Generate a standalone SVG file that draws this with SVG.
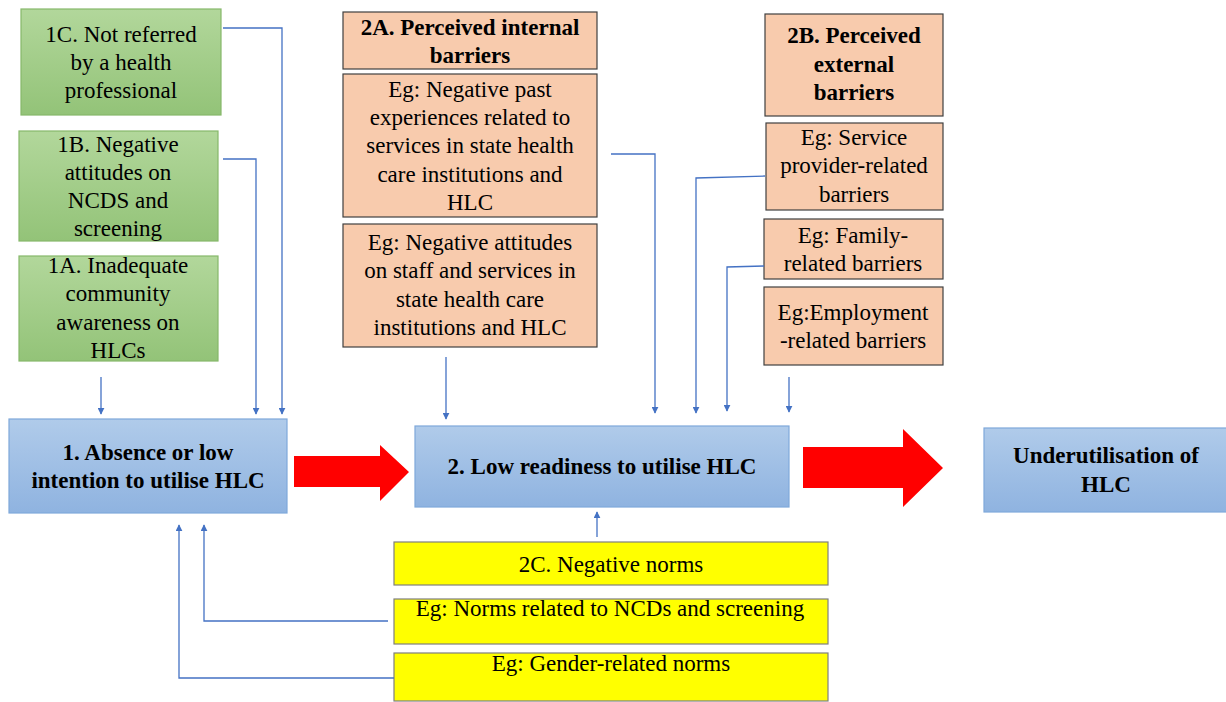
<svg xmlns="http://www.w3.org/2000/svg" width="1226" height="702" viewBox="0 0 1226 702">
<defs>
<linearGradient id="gG" x1="0" y1="0" x2="0" y2="1"><stop offset="0" stop-color="#b2d79b"/><stop offset="1" stop-color="#93c378"/></linearGradient>
<linearGradient id="gB" x1="0" y1="0" x2="0" y2="1"><stop offset="0" stop-color="#b0cbea"/><stop offset="1" stop-color="#8fb3e0"/></linearGradient>
<marker id="ah" viewBox="0 0 10 10" refX="9" refY="5" markerWidth="7" markerHeight="7" orient="auto" markerUnits="userSpaceOnUse"><path d="M0,0 L10,5 L0,10 z" fill="#4472c4"/></marker>
</defs>
<rect width="1226" height="702" fill="#fff"/>
<g font-family="Liberation Serif, Tinos, Times New Roman, serif" font-size="23" text-anchor="middle" fill="#000">
<g id="n1C"><rect fill="url(#gG)" stroke="#86b86a" stroke-width="1.2" x="21" y="9" width="200" height="106"/>
<text x="121" y="42">1C. Not referred</text><text x="121" y="70">by a health</text><text x="121" y="98">professional</text></g>
<g id="n1B"><rect fill="url(#gG)" stroke="#86b86a" stroke-width="1.2" x="19" y="131" width="199" height="110"/>
<text x="118" y="152">1B. Negative</text><text x="118" y="180">attitudes on</text><text x="118" y="208">NCDS and</text><text x="118" y="236">screening</text></g>
<g id="n1A"><rect fill="url(#gG)" stroke="#86b86a" stroke-width="1.2" x="19" y="256" width="199" height="105"/>
<text x="118" y="273">1A. Inadequate</text><text x="118" y="301">community</text><text x="118" y="330">awareness on</text><text x="118" y="358">HLCs</text></g>

<g id="n1" font-weight="bold"><rect fill="url(#gB)" stroke="#7fa8da" stroke-width="1.2" x="9" y="419" width="278" height="94"/>
<text x="148" y="460">1. Absence or low</text><text x="148" y="488">intention to utilise HLC</text></g>
<g id="n2" font-weight="bold"><rect fill="url(#gB)" stroke="#7fa8da" stroke-width="1.2" x="415" y="426" width="374" height="81"/>
<text x="602" y="474">2. Low readiness to utilise HLC</text></g>
<g id="n3" font-weight="bold"><rect fill="url(#gB)" stroke="#7fa8da" stroke-width="1.2" x="984" y="428" width="250" height="84"/>
<text x="1106" y="463">Underutilisation of</text><text x="1106" y="492">HLC</text></g>

<g id="n2A" font-weight="bold"><rect fill="#f8cbad" stroke="#404040" stroke-width="1.2" x="343" y="12" width="254" height="57"/>
<text x="470" y="35">2A. Perceived internal</text><text x="470" y="63">barriers</text></g>
<g id="n2A1"><rect fill="#f8cbad" stroke="#404040" stroke-width="1.2" x="343" y="74" width="254" height="143"/>
<text x="470" y="97">Eg: Negative past</text><text x="470" y="125">experiences related to</text><text x="470" y="153">services in state health</text><text x="470" y="182">care institutions and</text><text x="470" y="210">HLC</text></g>
<g id="n2A2"><rect fill="#f8cbad" stroke="#404040" stroke-width="1.2" x="343" y="224" width="254" height="123"/>
<text x="470" y="250">Eg: Negative attitudes</text><text x="470" y="278">on staff and services in</text><text x="470" y="307">state health care</text><text x="470" y="335">institutions and HLC</text></g>

<g id="n2B" font-weight="bold"><rect fill="#f8cbad" stroke="#404040" stroke-width="1.2" x="765" y="14" width="178" height="102"/>
<text x="854" y="43">2B. Perceived</text><text x="854" y="72">external</text><text x="854" y="100">barriers</text></g>
<g id="n2B1"><rect fill="#f8cbad" stroke="#404040" stroke-width="1.2" x="766" y="123" width="177" height="87"/>
<text x="854" y="145">Eg: Service</text><text x="854" y="173">provider-related</text><text x="854" y="202">barriers</text></g>
<g id="n2B2"><rect fill="#f8cbad" stroke="#404040" stroke-width="1.2" x="764" y="219" width="179" height="60"/>
<text x="853" y="243">Eg: Family-</text><text x="853" y="271">related barriers</text></g>
<g id="n2B3"><rect fill="#f8cbad" stroke="#404040" stroke-width="1.2" x="764" y="287" width="179" height="78"/>
<text x="853" y="320">Eg:Employment</text><text x="853" y="348">-related barriers</text></g>

<g id="n2C"><rect fill="#ffff00" stroke="#7f7f7f" stroke-width="1.2" x="394" y="542" width="434" height="43"/>
<text x="611" y="572">2C. Negative norms</text></g>
<g id="n2C1"><rect fill="#ffff00" stroke="#7f7f7f" stroke-width="1.2" x="394" y="599" width="434" height="45"/>
<text x="610" y="616">Eg: Norms related to NCDs and screening</text></g>
<g id="n2C2"><rect fill="#ffff00" stroke="#7f7f7f" stroke-width="1.2" x="394" y="653" width="434" height="48"/>
<text x="611" y="671">Eg: Gender-related norms</text></g>
</g>

<g id="connectors" fill="none" stroke="#4472c4" stroke-width="1.3">
<path marker-end="url(#ah)" d="M223,28 H282 V414"/>
<path marker-end="url(#ah)" d="M223,159 H256 V414"/>
<path marker-end="url(#ah)" d="M101,377 V414"/>
<path marker-end="url(#ah)" d="M446,357 V419"/>
<path marker-end="url(#ah)" d="M611,154 H655 V413"/>
<path marker-end="url(#ah)" d="M765,176 L696,178 V413"/>
<path marker-end="url(#ah)" d="M764,266 L727,267 V411"/>
<path marker-end="url(#ah)" d="M789,377 V412"/>
<path marker-end="url(#ah)" d="M597,537 V512"/>
<path marker-end="url(#ah)" d="M388,621 H204 V525"/>
<path marker-end="url(#ah)" d="M394,678 H179 V525"/>
<path fill="#ff0000" stroke="none" d="M294,456 H380 V445 L409,472 L380,501 V487 H294 Z"/>
<path fill="#ff0000" stroke="none" d="M803,447 H903 V429 L943,468 L903,507 V488 H803 Z"/>
</g>
</svg>
